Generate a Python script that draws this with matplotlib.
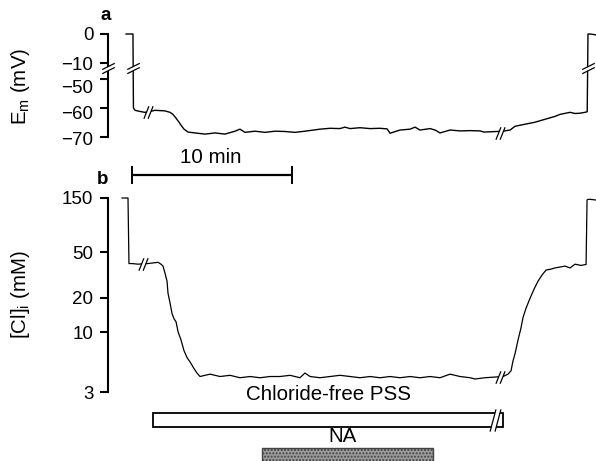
import numpy as np
import matplotlib
matplotlib.use("Agg")
import matplotlib.pyplot as plt
from matplotlib.path import Path
from matplotlib.patches import Rectangle
import matplotlib.transforms as mtransforms

plt.rcParams['font.family'] = ['Liberation Sans', 'DejaVu Sans']

# ---------------- data (time in min) ----------------
t_em = [0.38, 0.81, 0.84, 0.94, 1.25, 1.56, 1.88, 2.19, 2.50, 2.81,
        3.13, 3.31, 3.50, 3.69, 3.81, 4.00, 4.25, 4.69, 5.31, 5.94,
        6.56, 7.19, 7.50, 7.81, 8.44, 9.06, 9.69, 10.31, 10.94, 11.56,
        12.50, 13.13, 13.75, 14.06, 14.38, 15.00, 15.63, 16.25, 16.69, 16.88,
        17.50, 18.13, 18.44, 18.75, 19.38, 19.69, 20.00, 20.63, 21.25, 21.88,
        22.50, 22.75, 23.94, 24.38, 24.69, 25.31, 25.94, 26.56, 27.19, 27.50,
        28.13, 28.44, 28.75, 29.06, 29.20, 29.25, 29.38, 29.75]
em = [0.0, 0.0, -60.0, -60.8, -61.2, -61.5, -61.2, -60.8, -60.9, -61.0,
      -61.5, -62.2, -63.5, -64.9, -65.9, -67.3, -68.3, -68.6, -69.0, -68.6,
      -69.0, -68.0, -67.3, -68.4, -68.0, -68.4, -68.0, -68.1, -68.4, -68.0,
      -67.3, -67.0, -67.1, -66.6, -67.1, -66.8, -67.1, -67.0, -67.2, -68.7,
      -67.6, -67.3, -66.6, -67.6, -67.1, -67.6, -68.6, -67.6, -67.9, -67.8,
      -67.9, -68.3, -68.0, -67.6, -66.3, -65.6, -64.9, -63.9, -62.9, -62.2,
      -61.5, -61.9, -61.8, -61.5, -61.3, 0.0, 0.0, -0.3]

t_cl = [0.13, 0.50, 0.56, 0.75, 1.13, 1.75, 2.06, 2.38, 2.56, 2.69,
        2.81, 2.94, 3.00, 3.13, 3.25, 3.38, 3.50, 3.63, 3.81, 4.00,
        4.19, 4.38, 4.63, 4.81, 5.00, 5.63, 6.25, 6.88, 7.50, 8.13,
        8.75, 9.38, 10.00, 10.63, 11.25, 11.56, 11.88, 12.50, 13.13, 13.75,
        14.38, 15.00, 15.63, 16.25, 16.88, 17.50, 18.13, 18.75, 19.38, 20.00,
        20.63, 21.25, 21.88, 22.19, 22.81, 23.94, 24.25, 24.44, 24.56, 24.69,
        24.88, 25.06, 25.19, 25.38, 25.63, 25.88, 26.13, 26.38, 26.63, 26.88,
        27.19, 27.50, 27.81, 28.13, 28.44, 28.81, 29.13, 29.19, 29.25, 29.38, 29.75]
cl = [150, 150, 40, 40, 39.5, 40, 40.5, 41, 39.5, 38,
      33, 28, 22, 18, 14.6, 13.1, 12.4, 10.1, 8.6, 6.9,
      6.0, 5.5, 4.8, 4.4, 4.1, 4.3, 4.1, 4.2, 4.0, 4.1,
      4.0, 4.1, 4.1, 4.2, 4.0, 4.4, 4.1, 4.0, 4.1, 4.2,
      4.1, 4.0, 4.1, 4.0, 4.1, 4.0, 4.1, 4.0, 4.1, 4.0,
      4.3, 4.1, 4.0, 3.9, 4.0, 4.1, 4.3, 4.6, 5.6, 6.5,
      8.6, 10.9, 13.5, 16.3, 19.9, 23.9, 28.1, 31.8, 35.1, 35.6,
      36.6, 37.3, 38.0, 36.6, 39.5, 38.5, 39.3, 144, 146, 146, 144]

em_ticks = [0, -10, -50, -60, -70]
em_ticklabels = ['0', '\u221210', '\u221250', '\u221260', '\u221270']
cl_ticks = [3, 10, 20, 50, 150]
cl_ticklabels = ['3', '10', '20', '50', '150']

em_trace_breaks_v = [(0.81, -22), (29.22, -22)]
em_trace_breaks_h = [(1.75, -61.3), (23.75, -68.5)]
cl_trace_breaks_h = [(1.44, 40), (23.75, 4.1)]

scale_bar = (0.75, 10.75)          # 10 min
pss_period = (2.06, 23.94)         # chloride-free PSS
pss_break = 23.44
na_period = (8.88, 19.56)          # noradrenaline

# ---------------- figure ----------------
W, H = 596, 461
fig = plt.figure(figsize=(W / 100, H / 100), dpi=100)

def fx(px):
    return px / W

def fy(py):
    return 1 - py / H

xlim = (-0.75, 29.75)
left = fx(108)
width = 1 - left

ax_a = fig.add_axes([left, fy(137), width, fy(34) - fy(137)])
ax_b = fig.add_axes([left, fy(392), width, fy(198) - fy(392)])
ax_p = fig.add_axes([left, 0, width, fy(385)])

# broken linear scale for Em
def fwd(v):
    v = np.asarray(v, dtype=float)
    return np.where(v >= -10, v, np.where(v <= -50, v + 34.5, -10 + (v + 10) * 0.1375))

def inv(d):
    d = np.asarray(d, dtype=float)
    return np.where(d >= -10, d, np.where(d <= -15.5, d - 34.5, -10 + (d + 10) / 0.1375))

ax_a.set_yscale('function', functions=(fwd, inv))
ax_a.set_ylim(-70, 0)
ax_b.set_yscale('log')
ax_b.set_ylim(3, 150)

lw_sp = 1.5
TICK_FS = 13.5
TEXT_FS = 14.8
for ax in (ax_a, ax_b):
    ax.set_xlim(*xlim)
    for s in ('top', 'right', 'bottom'):
        ax.spines[s].set_visible(False)
    ax.spines['left'].set_linewidth(lw_sp)
    ax.tick_params(axis='y', which='major', direction='out', length=6, width=lw_sp, pad=4.5,
                   labelsize=TICK_FS)
    ax.set_xticks([])
    ax.patch.set_alpha(0)

ax_a.set_yticks(em_ticks)
ax_a.set_yticklabels(em_ticklabels)
ax_a.yaxis.set_minor_locator(matplotlib.ticker.NullLocator())
ax_b.set_yticks(cl_ticks)
ax_b.set_yticklabels(cl_ticklabels)
ax_b.yaxis.set_minor_locator(matplotlib.ticker.NullLocator())

# labels of the lower Em segment sit slightly below their ticks in the original
for lab, dpx in zip(ax_a.get_yticklabels(), [0, 0, 8, 5, 1]):
    lab.set_transform(lab.get_transform() +
                      mtransforms.ScaledTranslation(0, -dpx / 100, fig.dpi_scale_trans))

ax_a.plot(t_em, em, color='black', lw=1.0, clip_on=False, zorder=2)
ax_b.plot(t_cl, cl, color='black', lw=0.9, clip_on=False, zorder=2)

# break marks
def mark_paths(kind, h=3.0):
    codes = [Path.MOVETO, Path.LINETO, Path.MOVETO, Path.LINETO]
    if kind == 'h':   # on horizontal line
        fill = Path([(-2.2, -h), (-0.2, -h), (2.2, h), (0.2, h), (-2.2, -h)])
        verts = [(-2.2, -h), (0.2, h), (-0.2, -h), (2.2, h)]
    else:             # on vertical line
        fill = Path([(-3, -2.5), (3, 0.5), (3, 2.5), (-3, -0.5), (-3, -2.5)])
        verts = [(-3, -2.5), (3, 0.5), (-3, -0.5), (3, 2.5)]
    return fill, Path(verts, codes)

def break_mark(ax, x, y, kind, ms=9, transform=None, h=3.0):
    fill, lines = mark_paths(kind, h)
    kw = dict(ls='none', clip_on=False)
    if transform is not None:
        kw['transform'] = transform
    ax.plot([x], [y], marker=fill, ms=ms, mfc='white', mec='none', zorder=5, **kw)
    ax.plot([x], [y], marker=lines, ms=ms, mfc='none', mec='black', mew=0.9, zorder=6, **kw)

for (x, y) in em_trace_breaks_v:
    break_mark(ax_a, x, y, 'v')
for (x, y) in em_trace_breaks_h:
    break_mark(ax_a, x, y, 'h')
for (x, y) in cl_trace_breaks_h:
    break_mark(ax_b, x, y, 'h')
# axis break on the Em spine
break_mark(ax_a, 0, -22, 'v', transform=ax_a.get_yaxis_transform())

# scale bar
tb = ax_b.get_xaxis_transform()
ax_b.plot(list(scale_bar), [1.119, 1.119], color='black', lw=1.6, transform=tb, clip_on=False,
          solid_capstyle='butt')
for xs in scale_bar:
    ax_b.plot([xs, xs], [1.077, 1.160], color='black', lw=1.4, transform=tb, clip_on=False)
ax_b.text(np.mean(scale_bar) - 0.1, 1.21, '10 min', transform=tb, ha='center', va='center',
          fontsize=TEXT_FS)

# panel letters
fig.text(fx(106), fy(16), 'a', fontsize=13.5, fontweight='bold', ha='center', va='center')
fig.text(fx(103), fy(179), 'b', fontsize=13.5, fontweight='bold', ha='center', va='center')

# y labels
fig.text(fx(21), fy(86), r'E$_\mathregular{m}$ (mV)', rotation=90, fontsize=TEXT_FS,
         ha='center', va='center')
fig.text(fx(21), fy(295), r'[Cl]$_\mathregular{i}$ (mM)', rotation=90, fontsize=TEXT_FS,
         ha='center', va='center')

# protocol bars
ax_p.set_xlim(*xlim)
ax_p.set_ylim(0, 1)
ax_p.axis('off')
ax_p.add_patch(Rectangle((pss_period[0], 0.447), pss_period[1] - pss_period[0], 0.185,
                         facecolor='white', edgecolor='black', lw=1.3))
ax_p.text(np.mean(pss_period), 0.88, 'Chloride-free PSS', ha='center', va='center',
          fontsize=TEXT_FS)
break_mark(ax_p, pss_break, 0.54, 'h', ms=16, h=4.5)
ax_p.add_patch(Rectangle((na_period[0], -0.1), na_period[1] - na_period[0], 0.271,
                         facecolor='#9c9c9c', edgecolor='#444444', lw=1.0, hatch='.....'))
ax_p.text(np.mean(na_period) - 0.3, 0.316, 'NA', ha='center', va='center', fontsize=TEXT_FS)

fig.savefig('out.png', dpi=100)
